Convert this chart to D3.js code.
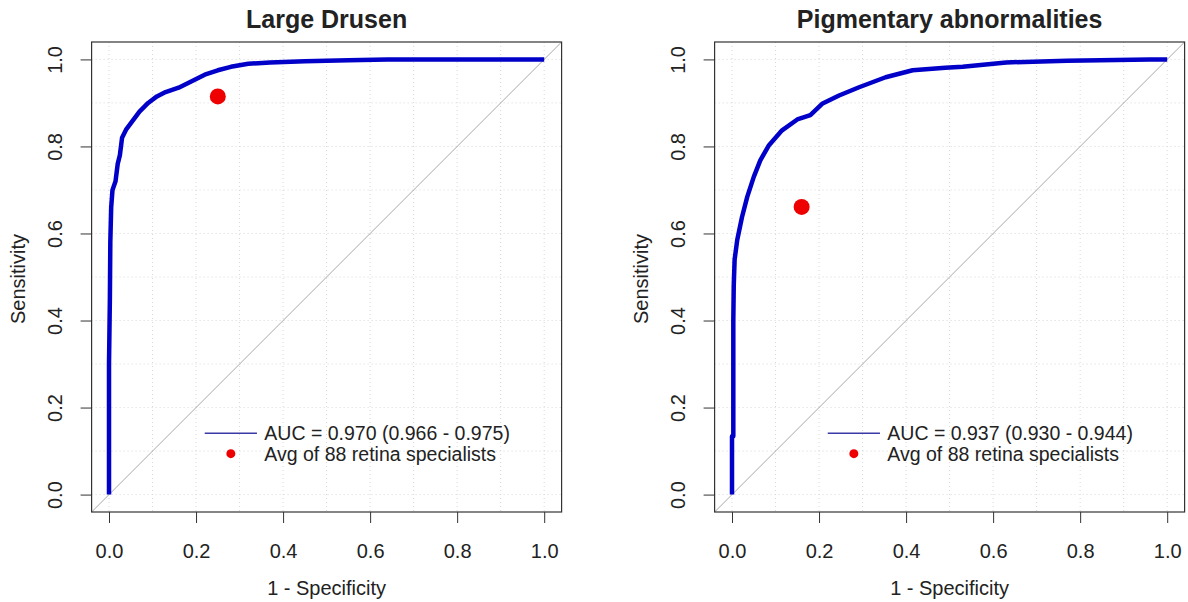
<!DOCTYPE html>
<html>
<head>
<meta charset="utf-8">
<script src="https://cdn.jsdelivr.net/npm/d3@7"></script>
<style>
  body { margin: 0; background: #fff; }
  text { font-family: "Liberation Sans", Arial, sans-serif; fill: #222; }
</style>
</head>
<body>
<svg id="chart" width="1188" height="602"></svg>
<script>
// panel titles + legend text
var titles = ["Large Drusen", "Pigmentary abnormalities"];
var aucLabels = ["AUC = 0.970 (0.966 - 0.975)", "AUC = 0.937 (0.930 - 0.944)"];
var dotLabel = "Avg of 88 retina specialists";
var ticks = [0, 0.2, 0.4, 0.6, 0.8, 1.0];

// ROC curve, large drusen (1 - specificity, sensitivity)
var drusenFpr = [0, 0, 0.002, 0.003, 0.005, 0.008, 0.015, 0.02, 0.025, 0.03, 0.04, 0.055, 0.07, 0.09, 0.11, 0.13, 0.16, 0.19, 0.22, 0.25, 0.28, 0.32, 0.37, 0.45, 0.55, 0.64, 1.0];
var drusenTpr = [0, 0.30, 0.45, 0.58, 0.66, 0.70, 0.72, 0.76, 0.78, 0.82, 0.84, 0.86, 0.88, 0.90, 0.915, 0.925, 0.935, 0.95, 0.965, 0.975, 0.983, 0.99, 0.993, 0.996, 0.998, 1.0, 1.0];

// ROC curve, pigmentary abnormalities
var pigFpr = [0, 0, 0.003, 0.003, 0.004, 0.006, 0.012, 0.023, 0.035, 0.05, 0.065, 0.085, 0.115, 0.15, 0.18, 0.207, 0.246, 0.292, 0.353, 0.415, 0.49, 0.53, 0.63, 0.77, 0.96, 1.0];
var pigTpr = [0, 0.134, 0.134, 0.40, 0.48, 0.54, 0.585, 0.638, 0.684, 0.73, 0.768, 0.803, 0.837, 0.862, 0.872, 0.898, 0.917, 0.936, 0.959, 0.975, 0.981, 0.983, 0.993, 0.997, 1.0, 1.0];

// average of retina specialists (1 - spec, sens)
var specialistX = [0.25, 0.16];
var specialistY = [0.915, 0.661];

var svg = d3.select("#chart");

function drawPanel(i, left, fpr, tpr) {
  var right = left + 470, top = 42, bottom = 512;
  var x = d3.scaleLinear().domain([-0.04, 1.04]).range([left, right]);
  var y = d3.scaleLinear().domain([-0.04, 1.04]).range([bottom, top]);
  var g = svg.append("g");

  // dotted grid every 0.1
  var grid = d3.range(0, 1.01, 0.1);
  g.selectAll(".vg").data(grid).enter().append("line")
      .attr("x1", function(d) { return x(d); }).attr("x2", function(d) { return x(d); })
      .attr("y1", top).attr("y2", bottom)
      .attr("stroke", "#d8d8d8").attr("stroke-dasharray", "1,3");
  g.selectAll(".hg").data(grid).enter().append("line")
      .attr("y1", function(d) { return y(d); }).attr("y2", function(d) { return y(d); })
      .attr("x1", left).attr("x2", right)
      .attr("stroke", "#d8d8d8").attr("stroke-dasharray", "1,3");

  // diagonal reference
  g.append("line")
      .attr("x1", x(-0.04)).attr("y1", y(-0.04))
      .attr("x2", x(1.04)).attr("y2", y(1.04))
      .attr("stroke", "#a8a8a8").attr("stroke-width", 1);

  // roc curve
  var pts = fpr.map(function(d, k) { return [d, tpr[k]]; });
  g.append("path")
      .datum(pts)
      .attr("d", d3.line().x(function(d) { return x(d[0]); }).y(function(d) { return y(d[1]); }))
      .attr("fill", "none").attr("stroke", "#0000c8").attr("stroke-width", 4.5)
      .attr("stroke-linejoin", "round");

  // specialists point
  g.append("circle")
      .attr("cx", x(specialistX[i])).attr("cy", y(specialistY[i])).attr("r", 8)
      .attr("fill", "#ee0000");

  // box
  g.append("rect")
      .attr("x", left).attr("y", top).attr("width", right - left).attr("height", bottom - top)
      .attr("fill", "none").attr("stroke", "#333").attr("stroke-width", 1.2);

  // axes
  var xAxis = d3.axisBottom(x).tickValues(ticks).tickFormat(d3.format(".1f")).tickSize(11).tickPadding(21);
  var gx = g.append("g").attr("transform", "translate(0," + bottom + ")").call(xAxis);
  gx.select(".domain").remove();
  gx.selectAll("line").attr("stroke", "#333");
  gx.selectAll("text").style("font-size", "20px").attr("fill", "#222");

  var yAxis = d3.axisLeft(y).tickValues(ticks).tickFormat(d3.format(".1f")).tickSize(11);
  var gy = g.append("g").attr("transform", "translate(" + left + ",0)").call(yAxis);
  gy.select(".domain").remove();
  gy.selectAll("line").attr("stroke", "#333");
  gy.selectAll("text")
      .style("font-size", "20px").attr("fill", "#222")
      .attr("x", null).attr("dy", null)
      .style("text-anchor", "middle")
      .attr("transform", "translate(-29.6,0) rotate(-90)");

  // titles
  g.append("text")
      .attr("x", (left + right) / 2).attr("y", 28)
      .style("text-anchor", "middle").style("font-weight", "bold").style("font-size", "25px")
      .text(titles[i]);
  g.append("text")
      .attr("x", (left + right) / 2).attr("y", 595)
      .style("text-anchor", "middle").style("font-size", "20px")
      .text("1 - Specificity");
  g.append("text")
      .attr("transform", "translate(" + (left - 67) + "," + ((top + bottom) / 2 + 2) + ") rotate(-90)")
      .style("text-anchor", "middle").style("font-size", "20px")
      .text("Sensitivity");

  // legend (rows packed tight like the original)
  g.append("line")
      .attr("x1", x(0.22)).attr("x2", x(0.34))
      .attr("y1", y(0.141)).attr("y2", y(0.141))
      .attr("stroke", "#3a3aa8").attr("stroke-width", 1.5);
  g.append("circle")
      .attr("cx", x(0.28)).attr("cy", y(0.094)).attr("r", 4.5)
      .attr("fill", "#ee0000");
  g.append("text")
      .attr("x", x(0.357)).attr("y", y(0.141) + 7)
      .style("font-size", "19.5px")
      .text(aucLabels[i]);
  g.append("text")
      .attr("x", x(0.357)).attr("y", y(0.094) + 7)
      .style("font-size", "19.5px")
      .text(dotLabel);
}

drawPanel(0, 91.6, drusenFpr, drusenTpr);
drawPanel(1, 714.6, pigFpr, pigTpr);
</script>
</body>
</html>
